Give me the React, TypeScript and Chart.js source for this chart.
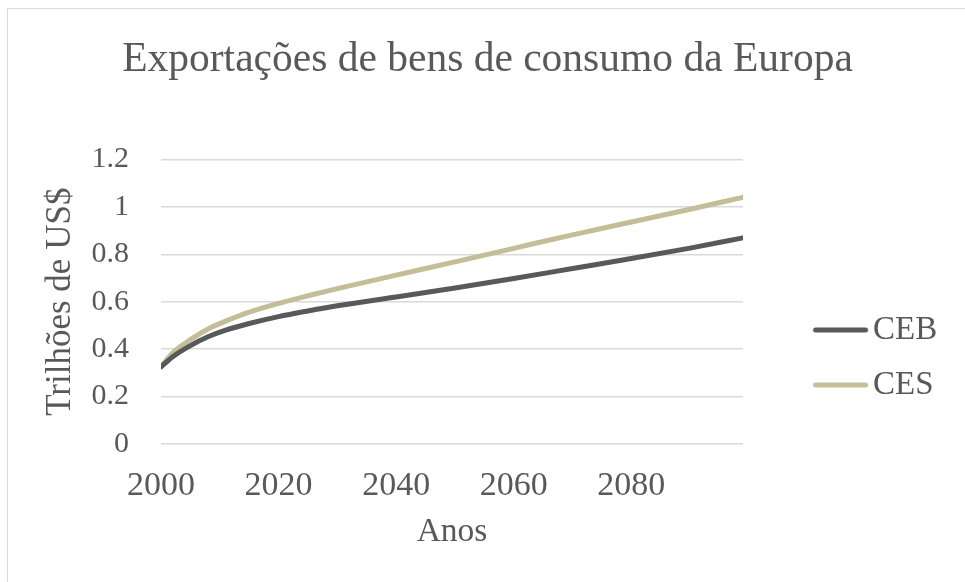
import React, { useEffect, useRef } from "react";
import { Chart, registerables } from "chart.js";

Chart.register(...registerables);

const TITLE = "Exportações de bens de consumo da Europa";
const X_TITLE = "Anos";
const Y_TITLE = "Trilhões de US$";
const SERIES_NAMES = ["CEB", "CES"];
const SERIES_COLORS = ["#595959", "#c4bd97"];

const YEARS = [2000, 2002, 2005, 2008, 2011, 2015, 2020, 2025, 2030, 2040, 2050, 2060, 2070, 2080, 2090, 2099];
const CEB_VALUES = [0.325, 0.368, 0.415, 0.452, 0.48, 0.508, 0.537, 0.561, 0.583, 0.62, 0.658, 0.698, 0.74, 0.782, 0.826, 0.869];
const CES_VALUES = [0.325, 0.385, 0.44, 0.485, 0.518, 0.556, 0.593, 0.625, 0.655, 0.712, 0.768, 0.825, 0.882, 0.936, 0.99, 1.04];

const X_TICKS = [2000, 2020, 2040, 2060, 2080];
const Y_TICKS = [0, 0.2, 0.4, 0.6, 0.8, 1, 1.2];
const X_RANGE = [2000, 2099];
const Y_RANGE = [0, 1.2];

const FONT = "'Liberation Serif', 'Times New Roman', serif";
const TEXT = "#595959";
const GRID = "#d9d9d9";

const PAD_L = 27.8;
const PAD_R = 17.8;

function legendLine(color: string): HTMLCanvasElement {
  const c = document.createElement("canvas");
  c.width = 116;
  c.height = 6;
  const g = c.getContext("2d")!;
  g.strokeStyle = color;
  g.lineWidth = 5;
  g.lineCap = "round";
  g.beginPath();
  g.moveTo(62.75, 3);
  g.lineTo(112.75, 3);
  g.stroke();
  return c;
}

export default function App() {
  const ref = useRef<HTMLCanvasElement | null>(null);

  useEffect(() => {
    if (!ref.current) return;
    const series = [CEB_VALUES, CES_VALUES];
    const imgs = SERIES_COLORS.map(legendLine);
    const chart = new Chart(ref.current, {
      type: "line",
      data: {
        datasets: series.map((vals, i) => ({
          label: SERIES_NAMES[i],
          data: YEARS.map((y, k) => ({ x: y, y: vals[k] })),
          borderColor: SERIES_COLORS[i],
          backgroundColor: SERIES_COLORS[i],
          borderWidth: 5,
          borderCapStyle: "round",
          borderJoinStyle: "round",
          pointRadius: 0,
          pointHoverRadius: 0,
          cubicInterpolationMode: "monotone",
          fill: false,
        })),
      },
      options: {
        responsive: false,
        animation: false,
        events: [],
        layout: { padding: { left: PAD_L, right: PAD_R, top: 0, bottom: 30 } },
        plugins: {
          tooltip: { enabled: false },
          title: {
            display: true,
            text: TITLE,
            color: TEXT,
            font: { family: FONT, size: 41.5, weight: "normal" },
            padding: { top: 35, bottom: 74.6 },
          },
          legend: {
            position: "right",
            title: {
              display: true,
              text: "",
              font: { size: 1 },
              padding: { top: 161.8, bottom: 0 },
            },
            labels: {
              usePointStyle: true,
              pointStyleWidth: 91.5,
              padding: 22,
              color: TEXT,
              font: { family: FONT, size: 33 },
              generateLabels: (ch: any) =>
                ch.data.datasets.map((ds: any, i: number) => ({
                  text: ds.label,
                  pointStyle: imgs[i],
                  fillStyle: "rgba(0,0,0,0)",
                  strokeStyle: "rgba(0,0,0,0)",
                  lineWidth: 0,
                  hidden: false,
                  datasetIndex: i,
                  fontColor: TEXT,
                })),
            },
          },
        },
        scales: {
          x: {
            type: "linear",
            min: X_RANGE[0],
            max: X_RANGE[1],
            afterBuildTicks: (s: any) => {
              s.ticks = X_TICKS.map((v) => ({ value: v }));
            },
            afterFit: (s: any) => {
              s.height = 108;
            },
            grid: { display: false, drawTicks: false },
            border: { display: false },
            ticks: {
              color: TEXT,
              font: { family: FONT, size: 34 },
              padding: 22,
              maxRotation: 0,
              autoSkip: false,
              callback: (v: any) => String(v),
            },
            title: {
              display: true,
              text: X_TITLE,
              color: TEXT,
              font: { family: FONT, size: 33.5 },
              padding: { top: 0, bottom: 0 },
            },
          },
          y: {
            type: "linear",
            min: Y_RANGE[0],
            max: Y_RANGE[1],
            afterBuildTicks: (s: any) => {
              s.ticks = Y_TICKS.map((v) => ({ value: v }));
            },
            afterFit: (s: any) => {
              s.width = 161 - PAD_L;
            },
            grid: { color: GRID, lineWidth: 1.5, drawTicks: false },
            border: { display: false },
            ticks: {
              color: TEXT,
              font: { family: FONT, size: 30 },
              padding: 32,
              autoSkip: false,
              callback: (v: any) => String(Number(Number(v).toFixed(1))),
            },
            title: {
              display: true,
              text: Y_TITLE,
              color: TEXT,
              font: { family: FONT, size: 35 },
              padding: { top: 12.2, bottom: 0 },
            },
          },
        },
      },
    } as any);
    return () => chart.destroy();
  }, []);

  return (
    <div style={{ position: "absolute", left: 0, top: 0, width: 965, height: 582, background: "#fff" }}>
      <div
        style={{
          position: "absolute",
          left: 7,
          top: 8,
          width: 965,
          height: 582,
          borderLeft: "1px solid #d9d9d9",
          borderTop: "1px solid #d9d9d9",
        }}
      />
      <canvas ref={ref} width={965} height={582} style={{ position: "absolute", left: 0, top: 0 }} />
    </div>
  );
}
